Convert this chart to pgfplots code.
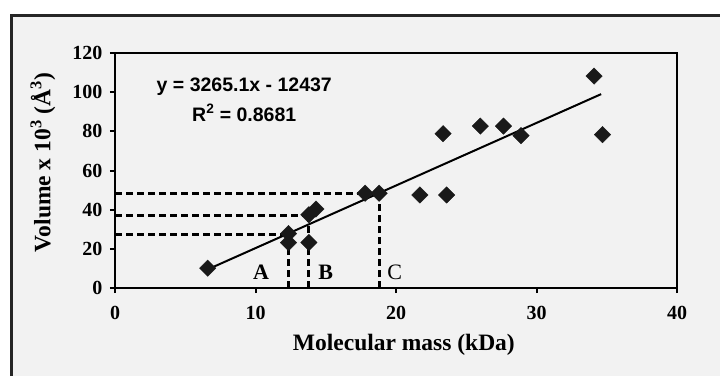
\documentclass[border=0pt]{standalone}
\usepackage{fontspec}
\setmainfont{Liberation Serif}
\newfontfamily\arialfont{Liberation Sans}
\usepackage{pgfplots}
\pgfplotsset{compat=1.18}
\begin{document}
\begin{tikzpicture}
\useasboundingbox (0,0) rectangle (720pt,376pt);
\fill[white] (0,0) rectangle (720pt,376pt);
\fill[black!5] (11pt,0) rectangle (720pt,361pt);
\draw[line width=3pt, black!85] (11pt,0) -- (11pt,361pt) -- (720pt,361pt);
\begin{axis}[
  at={(115pt,88pt)}, anchor=south west,
  scale only axis, width=562pt, height=235pt,
  xmin=0, xmax=40, ymin=0, ymax=120,
  xtick={0,10,20,30,40}, ytick={0,20,40,60,80,100,120},
  axis line style={line width=2.6pt},
  tick align=outside, major tick length=5pt,
  tick style={line width=2pt, black},
  xtick pos=bottom, ytick pos=left,
  /pgf/number format/assume math mode=true,
  ticklabel style={font=\bfseries\fontsize{20}{21}\selectfont},
  xticklabel style={yshift=-10pt},
  yticklabel style={xshift=-4pt},
  xlabel={Molecular mass (kDa)},
  ylabel={Volume x 10\textsuperscript{3} (Å\textsuperscript{3})},
  label style={font=\bfseries\fontsize{23.5}{24}\selectfont},
  xlabel style={at={(rel axis cs:0.514,0)}, anchor=center, yshift=-57pt},
  ylabel style={at={(rel axis cs:0,0.534)}, anchor=center, yshift=72pt},
  clip=false,
]
% dashed guide lines
\addplot[line width=3.2pt, dash pattern=on 7pt off 4pt] coordinates {(0,27.5) (12.35,27.5)};
\addplot[line width=3.2pt, dash pattern=on 7pt off 4pt] coordinates {(0,37) (13.8,37)};
\addplot[line width=3.2pt, dash pattern=on 7pt off 4pt] coordinates {(0,48.4) (18.8,48.4)};
\addplot[line width=3.2pt, dash pattern=on 7pt off 4pt] coordinates {(12.35,0) (12.35,27.5)};
\addplot[line width=3.2pt, dash pattern=on 7pt off 4pt] coordinates {(13.8,0) (13.8,37)};
\addplot[line width=3.2pt, dash pattern=on 7pt off 4pt] coordinates {(18.8,0) (18.8,48.4)};
% trend line
\addplot[line width=2pt, black] coordinates {(6.6,9.5) (34.6,99)};
% data
\addplot[only marks, mark=square*, mark size=5.8pt, mark options={rotate=45, fill=black!90, draw=black!90}] coordinates {
(6.6,10.1) (12.35,27.8) (12.35,23.2) (13.8,23.2) (13.8,37.4) (14.3,40.3)
(17.8,48.4) (18.8,48.4) (21.7,47.5) (23.6,47.5) (23.35,78.8)
(26.0,82.7) (27.65,82.7) (28.9,77.8) (34.1,108.2) (34.7,78.3)
};
\node[font=\arialfont\bfseries\fontsize{19.5}{20}\selectfont] at (axis cs:9.2,103) {y = 3265.1x - 12437};
\node[font=\arialfont\bfseries\fontsize{19.5}{20}\selectfont] at (axis cs:9.2,89.4) {R\textsuperscript{2} = 0.8681};
\node[font=\bfseries\fontsize{22}{23}\selectfont] at (axis cs:10.4,7.8) {A};
\node[font=\bfseries\fontsize{22}{23}\selectfont] at (axis cs:15.0,7.8) {B};
\node[font=\fontsize{22}{23}\selectfont] at (axis cs:19.9,7.8) {C};
\end{axis}
\end{tikzpicture}
\end{document}
